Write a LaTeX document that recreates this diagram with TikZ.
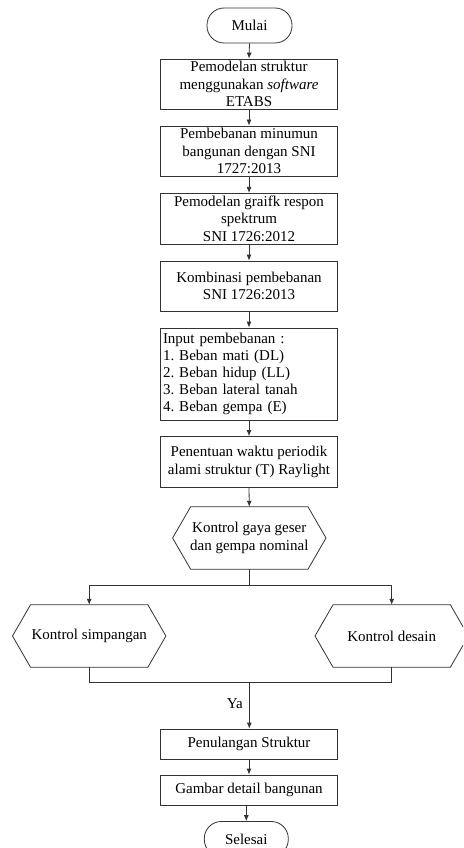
\documentclass[tikz,border=0pt]{standalone}
\usepackage{fontspec}
\setmainfont{Liberation Serif}
\usetikzlibrary{arrows.meta,calc}
\begin{document}
\frenchspacing
\begin{tikzpicture}[x=1pt,y=-1pt,
  line/.style={draw=black!80,line width=0.8pt},
  arr/.style={line,-{Latex[length=6pt,width=5pt]}},
  txt/.style={font=\fontsize{15}{17.5}\selectfont,align=center,inner sep=0pt,text=black},
  procbox/.style={txt,line,rectangle,minimum width=177pt},
  termbox/.style={txt,line,rounded corners=17pt,minimum width=85pt,minimum height=35pt},
  hexbox/.style={txt,minimum width=153pt,minimum height=62pt}
]
\useasboundingbox (0,0) rectangle (463,848);
\clip (0,0) rectangle (463,848);
\fill[white] (0,0) rectangle (463,848);

\node[termbox] (mulai) at (249.5,25.5) {Mulai};
\node[procbox,minimum height=50pt] (b1) at (249,84) {Pemodelan struktur\\menggunakan \textit{software}\\ETABS};
\node[procbox,minimum height=50pt] (b2) at (249,151) {Pembebanan minumun\\bangunan dengan SNI\\1727:2013};
\node[procbox,minimum height=51pt] (b3) at (249,218.8) {Pemodelan graifk respon\\spektrum\\SNI 1726:2012};
\node[procbox,minimum height=50pt] (b4) at (249,286) {Kombinasi pembebanan\\SNI 1726:2013};
\node[procbox,minimum height=92pt,align=left,text width=172pt,inner xsep=2.5pt,font=\fontsize{15}{17}\selectfont] (b5) at (249,374) {Input pembebanan :\\1. Beban mati (DL)\\2. Beban hidup (LL)\\3. Beban lateral tanah\\4. Beban gempa (E)};
\node[procbox,minimum height=51pt] (b6) at (249,462) {Penentuan waktu periodik\\alami struktur (T) Raylight};

\node[hexbox] (h1) at (249.3,538) {Kontrol gaya geser\\dan gempa nominal};
\node[hexbox] (hL) at (89.2,636) {Kontrol simpangan};
\node[hexbox] (hR) at (391.7,636) {Kontrol desain};
\foreach \h in {h1,hL,hR}{
  \draw[line] ([xshift=18pt]\h.north west) -- ([xshift=-18pt]\h.north east) -- (\h.east)
    -- ([xshift=-18pt]\h.south east) -- ([xshift=18pt]\h.south west) -- (\h.west) -- cycle;
}

\node[procbox,minimum height=30pt] (b7) at (249,744) {Penulangan Struktur};
\node[procbox,minimum height=30pt] (b8) at (249,790) {Gambar detail bangunan};
\node[termbox,minimum width=84pt] (selesai) at (246.3,839) {Selesai};

\draw[arr] (mulai.south) -- (b1.north);
\draw[arr] (b1.south) -- (b2.north);
\draw[arr] (b2.south) -- (b3.north);
\draw[arr] (b3.south) -- (b4.north);
\draw[arr] (b4.south) -- (b5.north);
\draw[arr] (b5.south) -- (b6.north);
\draw[arr] (b6.south) -- (h1.north);

\coordinate (sp) at (249.3,585);
\draw[line] (h1.south) -- (sp);
\draw[arr] (sp) -| (hL.north);
\draw[arr] (sp) -| (hR.north);

\coordinate (jn) at (249.3,682.7);
\draw[line] (hL.south) |- (jn);
\draw[line] (hR.south) |- (jn);
\draw[arr] (jn) -- node[txt,left=6pt,pos=0.45] {Ya} (jn |- b7.north);

\draw[arr] (b7.south) -- (b8.north);
\draw[arr] ([xshift=-2.7pt]b8.south) -- (selesai.north);
\end{tikzpicture}
\end{document}
